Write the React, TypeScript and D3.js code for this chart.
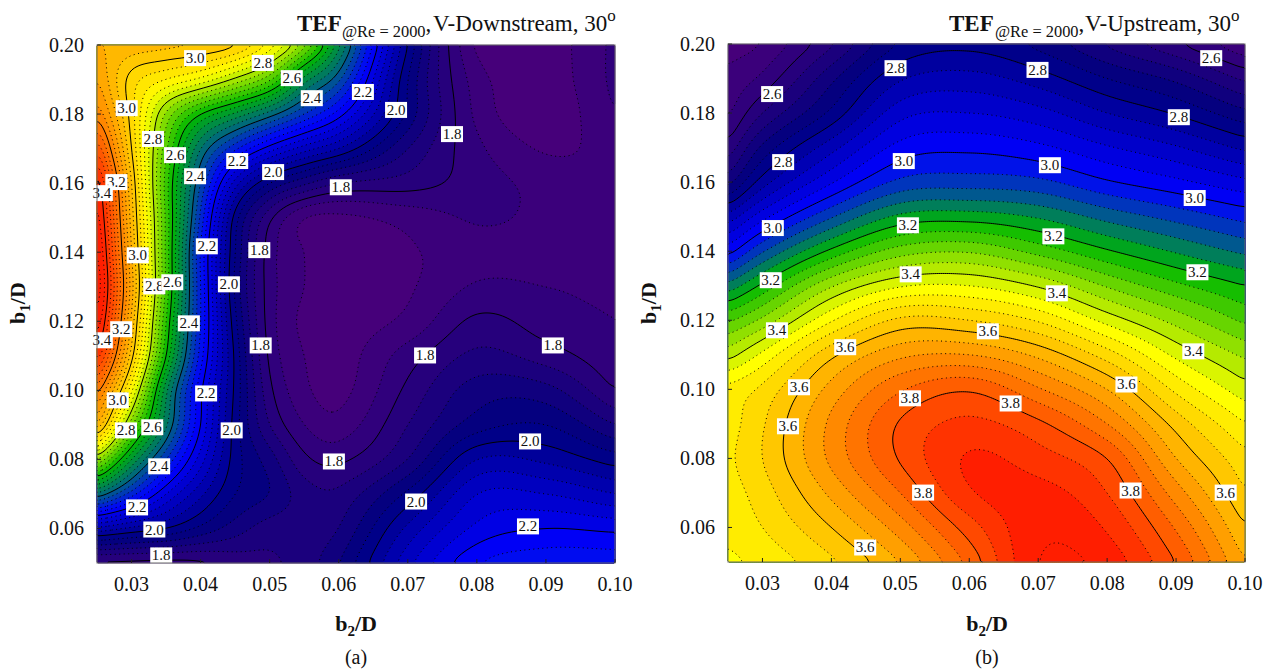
import React, { useMemo } from 'react';
import * as d3 from 'd3';

// measured grid of the two maps: b2/D across, b1/D down
const rowsB1 = [0.2, 0.19, 0.18, 0.17, 0.16, 0.15, 0.14, 0.13, 0.12, 0.11, 0.1, 0.09, 0.08, 0.07, 0.06, 0.05];
const downstreamB2 = [0.025, 0.03, 0.035, 0.04, 0.045, 0.05, 0.055, 0.06, 0.07, 0.08, 0.09, 0.1];
const downstreamTef = [
  [3.08, 3.07, 3.06, 3.05, 3.02, 2.92, 2.75, 2.5, 2.0, 1.71, 1.7, 1.77],
  [3.13, 2.98, 2.92, 2.87, 2.79, 2.69, 2.5, 2.37, 1.96, 1.74, 1.7, 1.77],
  [3.2, 2.98, 2.75, 2.6, 2.51, 2.42, 2.32, 2.22, 1.95, 1.75, 1.695, 1.76],
  [3.33, 3.0, 2.69, 2.44, 2.29, 2.18, 2.1, 2.04, 1.88, 1.77, 1.715, 1.735],
  [3.45, 3.04, 2.66, 2.36, 2.1, 1.96, 1.89, 1.84, 1.82, 1.78, 1.745, 1.72],
  [3.49, 3.06, 2.67, 2.31, 1.98, 1.81, 1.72, 1.71, 1.735, 1.765, 1.75, 1.73],
  [3.52, 3.08, 2.67, 2.275, 1.96, 1.78, 1.72, 1.705, 1.715, 1.745, 1.74, 1.74],
  [3.54, 3.1, 2.67, 2.28, 1.95, 1.78, 1.72, 1.7, 1.715, 1.765, 1.76, 1.75],
  [3.5, 3.07, 2.64, 2.28, 1.97, 1.78, 1.71, 1.7, 1.73, 1.81, 1.78, 1.76],
  [3.41, 3.02, 2.6, 2.26, 1.99, 1.79, 1.72, 1.7, 1.78, 1.85, 1.82, 1.77],
  [3.24, 2.89, 2.49, 2.21, 1.99, 1.81, 1.73, 1.705, 1.81, 1.9, 1.895, 1.8],
  [3.1, 2.73, 2.45, 2.2, 1.98, 1.84, 1.76, 1.735, 1.84, 1.94, 1.96, 1.88],
  [2.78, 2.52, 2.32, 2.14, 1.98, 1.9, 1.81, 1.79, 1.88, 2.04, 2.03, 1.98],
  [2.44, 2.3, 2.16, 2.05, 1.96, 1.92, 1.86, 1.85, 1.97, 2.12, 2.12, 2.08],
  [2.07, 2.03, 2.0, 1.95, 1.9, 1.86, 1.86, 1.88, 2.05, 2.17, 2.2, 2.19],
  [1.77, 1.77, 1.77, 1.78, 1.81, 1.83, 1.86, 1.92, 2.11, 2.24, 2.27, 2.27]
];
const upstreamB2 = [0.025, 0.03, 0.04, 0.05, 0.06, 0.07, 0.08, 0.09, 0.1];
const upstreamTef = [
  [2.5, 2.52, 2.63, 2.76, 2.785, 2.745, 2.67, 2.6, 2.52],
  [2.53, 2.57, 2.71, 2.835, 2.855, 2.82, 2.76, 2.71, 2.63],
  [2.55, 2.64, 2.77, 2.905, 2.92, 2.895, 2.84, 2.795, 2.73],
  [2.61, 2.73, 2.865, 2.975, 2.99, 2.97, 2.925, 2.885, 2.83],
  [2.7, 2.82, 2.955, 3.05, 3.06, 3.05, 3.005, 2.97, 2.93],
  [2.85, 2.945, 3.075, 3.17, 3.18, 3.155, 3.105, 3.065, 3.025],
  [2.98, 3.075, 3.21, 3.3, 3.315, 3.265, 3.205, 3.155, 3.11],
  [3.13, 3.21, 3.355, 3.435, 3.44, 3.395, 3.315, 3.25, 3.2],
  [3.27, 3.33, 3.475, 3.57, 3.56, 3.515, 3.425, 3.345, 3.27],
  [3.38, 3.45, 3.59, 3.67, 3.68, 3.63, 3.54, 3.43, 3.35],
  [3.49, 3.53, 3.655, 3.755, 3.795, 3.725, 3.64, 3.51, 3.415],
  [3.5, 3.555, 3.69, 3.805, 3.85, 3.81, 3.72, 3.585, 3.48],
  [3.51, 3.56, 3.69, 3.805, 3.885, 3.858, 3.8, 3.64, 3.53],
  [3.5, 3.54, 3.65, 3.76, 3.875, 3.895, 3.84, 3.7, 3.56],
  [3.49, 3.52, 3.6, 3.7, 3.82, 3.91, 3.875, 3.755, 3.6],
  [3.47, 3.49, 3.55, 3.64, 3.77, 3.92, 3.905, 3.8, 3.64]
];

// contour labels: b2/D, b1/D, text
const downstreamLabels: [number, number, string][] = [
  [0.0392, 0.1962, '3.0'], [0.049, 0.1948, '2.8'], [0.0532, 0.1904, '2.6'], [0.0561, 0.1846, '2.4'],
  [0.0635, 0.1864, '2.2'], [0.0683, 0.1812, '2.0'], [0.0764, 0.1742, '1.8'], [0.0603, 0.1588, '1.8'],
  [0.0453, 0.1664, '2.2'], [0.0505, 0.1632, '2.0'], [0.0293, 0.1817, '3.0'], [0.0331, 0.1728, '2.8'],
  [0.0363, 0.1681, '2.6'], [0.0392, 0.162, '2.4'], [0.0278, 0.1603, '3.2'], [0.0257, 0.1571, '3.4'],
  [0.0409, 0.1417, '2.2'], [0.0485, 0.1406, '1.8'], [0.0441, 0.1307, '2.0'], [0.0309, 0.1391, '3.0'],
  [0.0333, 0.1301, '2.8'], [0.0359, 0.1313, '2.6'], [0.0383, 0.1194, '2.4'], [0.0285, 0.1177, '3.2'],
  [0.0257, 0.1145, '3.4'], [0.0487, 0.113, '1.8'], [0.0408, 0.0991, '2.2'], [0.028, 0.0971, '3.0'],
  [0.0292, 0.0884, '2.8'], [0.033, 0.0893, '2.6'], [0.0445, 0.0884, '2.0'], [0.034, 0.078, '2.4'],
  [0.0593, 0.0794, '1.8'], [0.0308, 0.0661, '2.2'], [0.0333, 0.0597, '2.0'], [0.0343, 0.0522, '1.8'],
  [0.0725, 0.1101, '1.8'], [0.091, 0.113, '1.8'], [0.0877, 0.0852, '2.0'], [0.0712, 0.0678, '2.0'],
  [0.0874, 0.0606, '2.2']
];
const upstreamLabels: [number, number, string][] = [
  [0.0314, 0.1855, '2.6'], [0.0493, 0.193, '2.8'], [0.0699, 0.1925, '2.8'], [0.0951, 0.1959, '2.6'],
  [0.0904, 0.1788, '2.8'], [0.033, 0.1658, '2.8'], [0.0505, 0.1661, '3.0'], [0.0717, 0.1649, '3.0'],
  [0.0927, 0.1554, '3.0'], [0.0315, 0.1467, '3.0'], [0.0511, 0.1475, '3.2'], [0.0722, 0.1443, '3.2'],
  [0.0931, 0.1339, '3.2'], [0.0312, 0.1316, '3.2'], [0.0515, 0.1333, '3.4'], [0.0727, 0.1278, '3.4'],
  [0.0925, 0.111, '3.4'], [0.0321, 0.1171, '3.4'], [0.042, 0.1122, '3.6'], [0.0627, 0.1168, '3.6'],
  [0.0828, 0.1014, '3.6'], [0.0353, 0.1006, '3.6'], [0.0337, 0.0893, '3.6'], [0.0514, 0.0974, '3.8'],
  [0.066, 0.0959, '3.8'], [0.0834, 0.0707, '3.8'], [0.0533, 0.0701, '3.8'], [0.0972, 0.0701, '3.6'],
  [0.0449, 0.0542, '3.6']
];

const xTicks = [0.03, 0.04, 0.05, 0.06, 0.07, 0.08, 0.09, 0.1];
const yTicks = [0.06, 0.08, 0.1, 0.12, 0.14, 0.16, 0.18, 0.2];
const rampColors = ['#46007a', '#00007f', '#0000ff', '#006a78', '#00b800', '#90e000', '#ffff00', '#ffb400', '#ff1e00'];
const downstreamStops = [1.7, 1.96, 2.24, 2.42, 2.6, 2.76, 2.88, 3.07, 3.44];
const upstreamStops = [2.5, 2.76, 3.0, 3.12, 3.2, 3.34, 3.46, 3.62, 3.9];

const FONT = '"Liberation Serif", "Times New Roman", serif';
const CELL = 2; // px per cell of the resampled field

// cubic through a table column/row, with finite difference slopes
const hermite = (xs: number[], vs: number[], u: number) => {
  const n = xs.length;
  const k = Math.min(Math.max(d3.bisectRight(xs, u) - 1, 0), n - 2);
  const h = xs[k + 1] - xs[k];
  const t = (u - xs[k]) / h;
  const slope = (i: number) => {
    const a = Math.max(i - 1, 0);
    const b = Math.min(i + 1, n - 1);
    return (vs[b] - vs[a]) / (xs[b] - xs[a]);
  };
  const m0 = slope(k) * h;
  const m1 = slope(k + 1) * h;
  const t2 = t * t;
  const t3 = t2 * t;
  return (2 * t3 - 3 * t2 + 1) * vs[k] + (t3 - 2 * t2 + t) * m0 + (-2 * t3 + 3 * t2) * vs[k + 1] + (t3 - t2) * m1;
};

// resample the table onto the regular grid d3.contours wants
const resample = (xs: number[], ys: number[], table: number[][], nx: number, ny: number) => {
  const bx = d3.scaleLinear().domain([-0.5, nx - 0.5]).range([0.025, 0.1]);
  const by = d3.scaleLinear().domain([-0.5, ny - 0.5]).range([0.2, 0.05]);
  const rowAsc = ys.map(v => -v);
  const out = new Float64Array(nx * ny);
  for (let i = 0; i < nx; i++) {
    const u = bx(i);
    const col = table.map(row => hermite(xs, row, u));
    for (let j = 0; j < ny; j++) {
      out[j * nx + i] = hermite(rowAsc, col, -by(j));
    }
  }
  d3.blur2({ data: out, width: nx, height: ny }, 2);
  return out;
};

interface PanelProps {
  left: number;
  top: number;
  width: number;
  height: number;
  b2: number[];
  tef: number[][];
  labels: [number, number, string][];
  stops: number[];
  levelRange: [number, number];
}

const ContourPanel = ({ left, top, width, height, b2, tef, labels, stops, levelRange }: PanelProps) => {
  const x = d3.scaleLinear().domain([0.025, 0.1]).range([left, left + width]);
  const y = d3.scaleLinear().domain([0.05, 0.2]).range([top + height, top]);
  const color = d3.scaleLinear<string>().domain(stops).range(rampColors).clamp(true);

  const { bands, lines } = useMemo(() => {
    const nx = Math.round(width / CELL);
    const ny = Math.round(height / CELL);
    const field = resample(b2, rowsB1, tef, nx, ny);
    // hundredths, so 20 apart is a labelled level
    const levels = d3.range(levelRange[0], levelRange[1], 4);
    const contours = d3.contours().size([nx, ny]).thresholds(levels.map(l => l / 100))(field as any);
    const px = (c: number) => left + (c / nx) * width;
    const py = (c: number) => top + (c / ny) * height;
    const path = d3.geoPath(
      d3.geoTransform({
        point(a, b) {
          this.stream.point(px(a), py(b));
        }
      })
    );
    const line = d3.line<number[]>().x(p => px(p[0])).y(p => py(p[1]));
    const onEdge = (p: number[]) => p[0] <= 0 || p[0] >= nx || p[1] <= 0 || p[1] >= ny;

    const bands = contours.map((c, i) => ({ d: path(c as any) || '', fill: color((levels[i] + 2) / 100) }));
    const lines = contours.map((c, i) => {
      // rings run along the frame where they hit it, keep only the inner stretches
      let d = '';
      c.coordinates.forEach(poly =>
        poly.forEach(ring => {
          let run: number[][] = [];
          ring.forEach((p, k) => {
            if (onEdge(p)) {
              if (run.length) d += line([...run, p]);
              run = [];
            } else {
              if (!run.length && k > 0 && onEdge(ring[k - 1])) run.push(ring[k - 1]);
              run.push(p);
            }
          });
          if (run.length > 1) d += line(run);
        })
      );
      return { d, solid: levels[i] % 20 === 0 };
    });
    return { bands, lines };
  }, []);

  return (
    <g>
      <rect x={left} y={top} width={width} height={height} fill={color((levelRange[0] - 2) / 100)} />
      {bands.map((b, i) => (
        <path key={i} d={b.d} fill={b.fill} stroke={b.fill} strokeWidth={0.3} />
      ))}
      {lines.map((l, i) => (
        <path
          key={i}
          d={l.d}
          fill="none"
          stroke="#000"
          strokeWidth={1}
          strokeDasharray={l.solid ? undefined : '1 3.5'}
        />
      ))}
      {labels.map(([a, b, t], i) => (
        <g key={i} transform={`translate(${x(a)},${y(b)})`}>
          <rect x={-11} y={-8} width={22} height={16} fill="#fff" />
          <text y={5} textAnchor="middle" fontFamily={FONT} fontSize={15} fill="#111">
            {t}
          </text>
        </g>
      ))}
      <rect x={left} y={top} width={width} height={height} fill="none" stroke="#666" strokeWidth={1} />
      {xTicks.map(t => (
        <g key={t}>
          <line x1={x(t)} x2={x(t)} y1={top + height} y2={top + height - 4} stroke="#222" />
          <text x={x(t)} y={top + height + 28} textAnchor="middle" fontFamily={FONT} fontSize={20} fill="#111">
            {t.toFixed(2)}
          </text>
        </g>
      ))}
      {yTicks.map(t => (
        <g key={t}>
          <line x1={left} x2={left + 4} y1={y(t)} y2={y(t)} stroke="#222" />
          <text x={left - 13} y={y(t) + 6.5} textAnchor="end" fontFamily={FONT} fontSize={20} fill="#111">
            {t.toFixed(2)}
          </text>
        </g>
      ))}
    </g>
  );
};

const Title = ({ x, sub, rest, name }: { x: number; sub: number; rest: number; name: string }) => (
  <text y={31} fontFamily={FONT} fill="#111">
    <tspan x={x} fontSize={23} fontWeight="bold">TEF</tspan>
    <tspan x={sub} dy={6} fontSize={16.4}>@Re = 2000</tspan>
    <tspan dy={-6} fontSize={23}>,</tspan>
    <tspan x={rest} fontSize={23}>{name}, 30</tspan>
    <tspan dy={-10} fontSize={17}>o</tspan>
  </text>
);

const XName = ({ cx }: { cx: number }) => (
  <text x={cx} y={631} textAnchor="middle" fontFamily={FONT} fontWeight="bold" fontSize={22} fill="#111">
    b<tspan dy={5} fontSize={15}>2</tspan>
    <tspan dy={-5}>/D</tspan>
  </text>
);

const YName = ({ cx }: { cx: number }) => (
  <text
    transform={`translate(${cx},303) rotate(-90)`}
    textAnchor="middle"
    fontFamily={FONT}
    fontWeight="bold"
    fontSize={22}
    fill="#111"
  >
    b<tspan dy={5} fontSize={15}>1</tspan>
    <tspan dy={-5}>/D</tspan>
  </text>
);

export default function App() {
  return (
    <svg
      width={1265}
      height={670}
      style={{ position: 'absolute', left: 0, top: 0, background: '#fff' }}
    >
      <ContourPanel
        left={97}
        top={45}
        width={518}
        height={518}
        b2={downstreamB2}
        tef={downstreamTef}
        labels={downstreamLabels}
        stops={downstreamStops}
        levelRange={[168, 356]}
      />
      <ContourPanel
        left={728}
        top={44}
        width={517}
        height={518}
        b2={upstreamB2}
        tef={upstreamTef}
        labels={upstreamLabels}
        stops={upstreamStops}
        levelRange={[248, 396]}
      />
      <Title x={297} sub={342} rest={433} name="V-Downstream" />
      <Title x={949} sub={995} rest={1085} name="V-Upstream" />
      <XName cx={356} />
      <XName cx={987} />
      <YName cx={25} />
      <YName cx={656} />
      <text x={356} y={664} textAnchor="middle" fontFamily={FONT} fontSize={20} fill="#111">(a)</text>
      <text x={987} y={664} textAnchor="middle" fontFamily={FONT} fontSize={20} fill="#111">(b)</text>
    </svg>
  );
}
